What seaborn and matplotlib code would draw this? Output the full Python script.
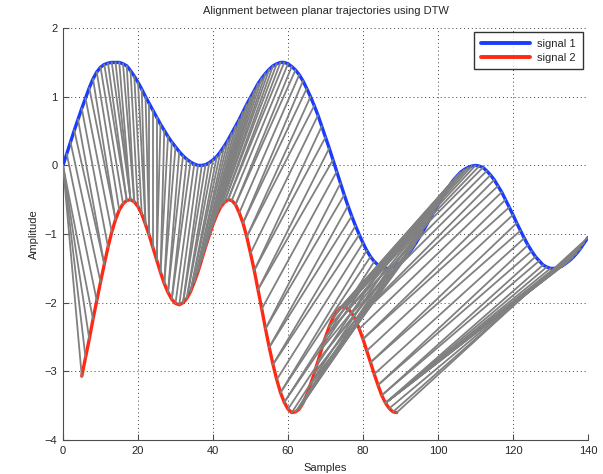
import numpy as np
import pandas as pd
import matplotlib
matplotlib.use("Agg")
import matplotlib.pyplot as plt
import seaborn as sns

# Signal 1: samples 0..140
signal_1 = [
    0.0, 0.17, 0.34, 0.51, 0.67, 0.83, 0.98, 1.13, 1.26, 1.36,
    1.43, 1.47, 1.49, 1.5, 1.5, 1.5, 1.48, 1.45, 1.38, 1.3,
    1.21, 1.11, 1.0, 0.9, 0.8, 0.7, 0.6, 0.51, 0.42, 0.34,
    0.27, 0.2, 0.14, 0.09, 0.05, 0.02, 0.0, 0.0, 0.01, 0.04,
    0.08, 0.13, 0.2, 0.28, 0.37, 0.47, 0.57, 0.67, 0.78, 0.89,
    0.99, 1.09, 1.19, 1.27, 1.34, 1.4, 1.45, 1.48, 1.5, 1.5,
    1.48, 1.44, 1.39, 1.32, 1.23, 1.12, 1.0, 0.87, 0.73, 0.57,
    0.41, 0.25, 0.08, -0.09, -0.26, -0.43, -0.59, -0.74, -0.88, -1.01,
    -1.13, -1.24, -1.33, -1.4, -1.45, -1.48, -1.5, -1.5, -1.48, -1.45,
    -1.41, -1.36, -1.3, -1.22, -1.14, -1.05, -0.96, -0.86, -0.76, -0.67,
    -0.57, -0.47, -0.38, -0.3, -0.22, -0.16, -0.1, -0.06, -0.03, -0.01,
    0.0, -0.01, -0.03, -0.08, -0.14, -0.21, -0.3, -0.39, -0.5, -0.61,
    -0.72, -0.84, -0.95, -1.06, -1.16, -1.25, -1.33, -1.39, -1.45, -1.48,
    -1.5, -1.5, -1.49, -1.47, -1.43, -1.39, -1.34, -1.28, -1.21, -1.13,
    -1.05,
]
samples_1 = np.arange(0, 141)

# Signal 2 as displayed (drawn 2 units below its own level): samples 5..89
signal_2 = [
    -3.07, -2.8, -2.53, -2.24, -1.97, -1.7, -1.44, -1.19, -0.97, -0.79,
    -0.65, -0.56, -0.51, -0.5, -0.53, -0.6, -0.71, -0.86, -1.02, -1.2,
    -1.38, -1.56, -1.72, -1.85, -1.95, -2.01, -2.03, -2.0, -1.94, -1.84,
    -1.7, -1.55, -1.37, -1.19, -1.02, -0.86, -0.72, -0.61, -0.54, -0.5,
    -0.51, -0.57, -0.69, -0.84, -1.04, -1.28, -1.53, -1.81, -2.09, -2.38,
    -2.65, -2.9, -3.12, -3.31, -3.45, -3.55, -3.6, -3.59, -3.55, -3.46,
    -3.34, -3.19, -3.03, -2.85, -2.67, -2.5, -2.35, -2.22, -2.13, -2.07,
    -2.06, -2.09, -2.15, -2.25, -2.38, -2.53, -2.7, -2.87, -3.04, -3.2,
    -3.35, -3.46, -3.54, -3.59, -3.6,
]
samples_2 = np.arange(5, 90)
display_shift = -2.0

series_labels = ["signal 1", "signal 2"]
x_ticks = [0, 20, 40, 60, 80, 100, 120, 140]
y_ticks = [-4, -3, -2, -1, 0, 1, 2]


def dtw_path(a, b):
    """Classic dynamic time warping; returns the optimal list of (i, j) index pairs."""
    n, m = len(a), len(b)
    D = np.full((n + 1, m + 1), np.inf)
    D[0, 0] = 0.0
    for i in range(1, n + 1):
        for j in range(1, m + 1):
            D[i, j] = abs(a[i - 1] - b[j - 1]) + min(D[i - 1, j], D[i, j - 1], D[i - 1, j - 1])
    i, j = n, m
    path = [(i - 1, j - 1)]
    while i > 1 or j > 1:
        k = int(np.argmin([D[i - 1, j - 1], D[i - 1, j], D[i, j - 1]]))
        if k == 0:
            i, j = i - 1, j - 1
        elif k == 1:
            i -= 1
        else:
            j -= 1
        path.append((i - 1, j - 1))
    return path[::-1]


# align on the true level of signal 2 (undo the display shift)
path = dtw_path(np.array(signal_1), np.array(signal_2) - display_shift)

sns.set_style("white")
plt.rcParams["font.family"] = ["Liberation Sans", "DejaVu Sans"]
plt.rcParams["font.size"] = 8
plt.rcParams["axes.unicode_minus"] = True

fig = plt.figure(figsize=(6.03, 4.74), dpi=100)
ax = fig.add_axes([0.1045, 0.0717, 0.8706, 0.869])

s1 = pd.DataFrame({"x": samples_1, "y": signal_1})
s2 = pd.DataFrame({"x": samples_2, "y": signal_2})
sns.lineplot(data=s1, x="x", y="y", ax=ax, color="#1a3cff", lw=2.4,
             label=series_labels[0], zorder=2, sort=False)
sns.lineplot(data=s2, x="x", y="y", ax=ax, color="#ff2a14", lw=2.4,
             label=series_labels[1], zorder=2, sort=False)

# one grey segment per matched pair of samples, drawn over the signals
rows = []
for k, (i, j) in enumerate(path):
    rows.append((k, samples_1[i], signal_1[i]))
    rows.append((k, samples_2[j], signal_2[j]))
links = pd.DataFrame(rows, columns=["pair", "x", "y"])
sns.lineplot(data=links, x="x", y="y", units="pair", estimator=None, sort=False,
             color="0.5", lw=1.3, ax=ax, legend=False, zorder=3)

ax.set_xlim(0, 140)
ax.set_ylim(-4, 2)
ax.set_xticks(x_ticks)
ax.set_yticks(y_ticks)
ax.grid(True, color="0.25", lw=0.7, ls=(0, (1, 3)))
for s in ["top", "right"]:
    ax.spines[s].set_visible(False)
for s in ["left", "bottom"]:
    ax.spines[s].set_color("0.3")
    ax.spines[s].set_linewidth(0.8)
ax.tick_params(direction="in", length=4, width=0.8, color="0.3", labelsize=8, pad=4,
               left=True, bottom=True)
ax.set_xlabel("Samples", fontsize=8, labelpad=5)
ax.set_ylabel("Amplitude", fontsize=8, labelpad=4)
ax.set_title("Alignment between planar trajectories using DTW", fontsize=8, pad=10)
leg = ax.legend(loc="upper right", bbox_to_anchor=(0.99, 0.99), borderaxespad=0,
                frameon=True, fancybox=False, edgecolor="black", fontsize=8,
                handlelength=4.4, handletextpad=0.7, borderpad=0.6, labelspacing=0.35)
leg.get_frame().set_linewidth(1.0)
for line in leg.get_lines():
    line.set_linewidth(2.8)

fig.savefig("out.png", dpi=100)
